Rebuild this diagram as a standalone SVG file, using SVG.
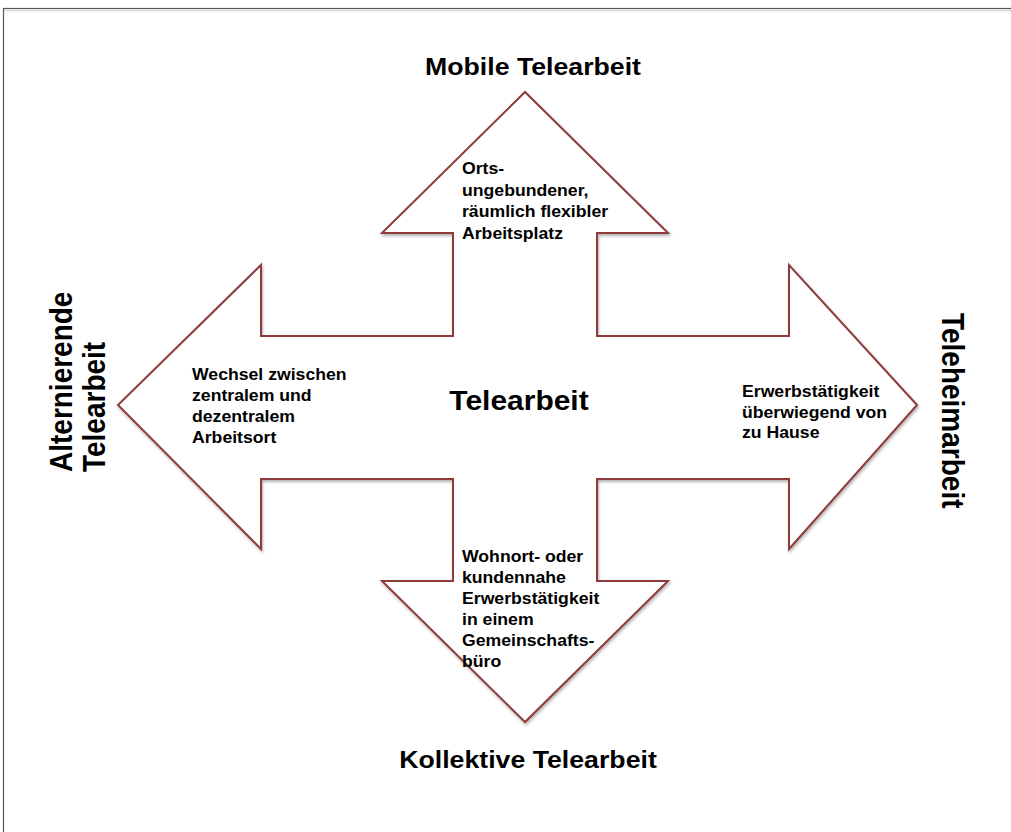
<svg xmlns="http://www.w3.org/2000/svg" width="1011" height="832" viewBox="0 0 1011 832">
<defs>
<style>
.t{font-family:"Liberation Sans",Arial,sans-serif;font-weight:bold;fill:#000}
.s{font-size:16.5px}
.h{font-size:24.5px}
.c{font-size:28px}
.r{font-size:28px}
</style>
<filter id="sh" x="-5%" y="-5%" width="110%" height="110%">
<feDropShadow dx="1" dy="2" stdDeviation="1.5" flood-color="#000" flood-opacity="0.3"/>
</filter>
</defs>
<rect width="1011" height="832" fill="#fff"/>
<g id="frame">
<rect x="3.5" y="8.5" width="1030" height="850" fill="none" stroke="#555" stroke-width="1.2"/>
<line x1="4" y1="10.5" x2="1011" y2="10.5" stroke="#ddd" stroke-width="2"/>
</g>
<g id="connectors">
<polygon id="cross" points="525,92 668,233 597,233 597,336 789,336 789,265 917,405 789,549 789,479 597,479 597,581 668,581 525,722 382,581 453,581 453,479 261,479 261,549 118,405 261,265 261,336 453,336 453,233 382,233" fill="#fff" stroke="#8e3b3b" stroke-width="2" filter="url(#sh)"/>
</g>
<g id="center"><text class="t c" transform="translate(519,410) scale(1.07,1)" text-anchor="middle">Telearbeit</text></g>
<g id="top">
<text class="t h" transform="translate(533,75) scale(1.09,1)" text-anchor="middle">Mobile Telearbeit</text>
<g transform="translate(462,0)">
<text class="t s" transform="translate(0,174) scale(1.07,1)">Orts-</text>
<text class="t s" transform="translate(0,195.5) scale(1.07,1)">ungebundener,</text>
<text class="t s" transform="translate(0,217) scale(1.07,1)">räumlich flexibler</text>
<text class="t s" transform="translate(0,238.5) scale(1.07,1)">Arbeitsplatz</text>
</g>
</g>
<g id="bottom">
<text class="t h" transform="translate(528,768) scale(1.09,1)" text-anchor="middle">Kollektive Telearbeit</text>
<g transform="translate(462,0)">
<text class="t s" transform="translate(0,562) scale(1.07,1)">Wohnort- oder</text>
<text class="t s" transform="translate(0,583) scale(1.07,1)">kundennahe</text>
<text class="t s" transform="translate(0,604) scale(1.07,1)">Erwerbstätigkeit</text>
<text class="t s" transform="translate(0,625) scale(1.07,1)">in einem</text>
<text class="t s" transform="translate(0,646) scale(1.07,1)">Gemeinschafts-</text>
<text class="t s" transform="translate(0,667) scale(1.07,1)">büro</text>
</g>
</g>
<g id="left">
<text class="t r" transform="translate(72,472) scale(1.1,1) rotate(-90)">Alternierende</text>
<text class="t r" transform="translate(105,472) scale(1.1,1) rotate(-90)">Telearbeit</text>
<g transform="translate(192,0)">
<text class="t s" transform="translate(0,380) scale(1.07,1)">Wechsel zwischen</text>
<text class="t s" transform="translate(0,401) scale(1.07,1)">zentralem und</text>
<text class="t s" transform="translate(0,422) scale(1.07,1)">dezentralem</text>
<text class="t s" transform="translate(0,443) scale(1.07,1)">Arbeitsort</text>
</g>
</g>
<g id="right">
<text class="t r" transform="translate(942,313) scale(1.1,1) rotate(90)">Teleheimarbeit</text>
<g transform="translate(742,0)">
<text class="t s" transform="translate(0,397) scale(1.07,1)">Erwerbstätigkeit</text>
<text class="t s" transform="translate(0,418) scale(1.07,1)">überwiegend von</text>
<text class="t s" transform="translate(0,438) scale(1.07,1)">zu Hause</text>
</g>
</g>
</svg>
